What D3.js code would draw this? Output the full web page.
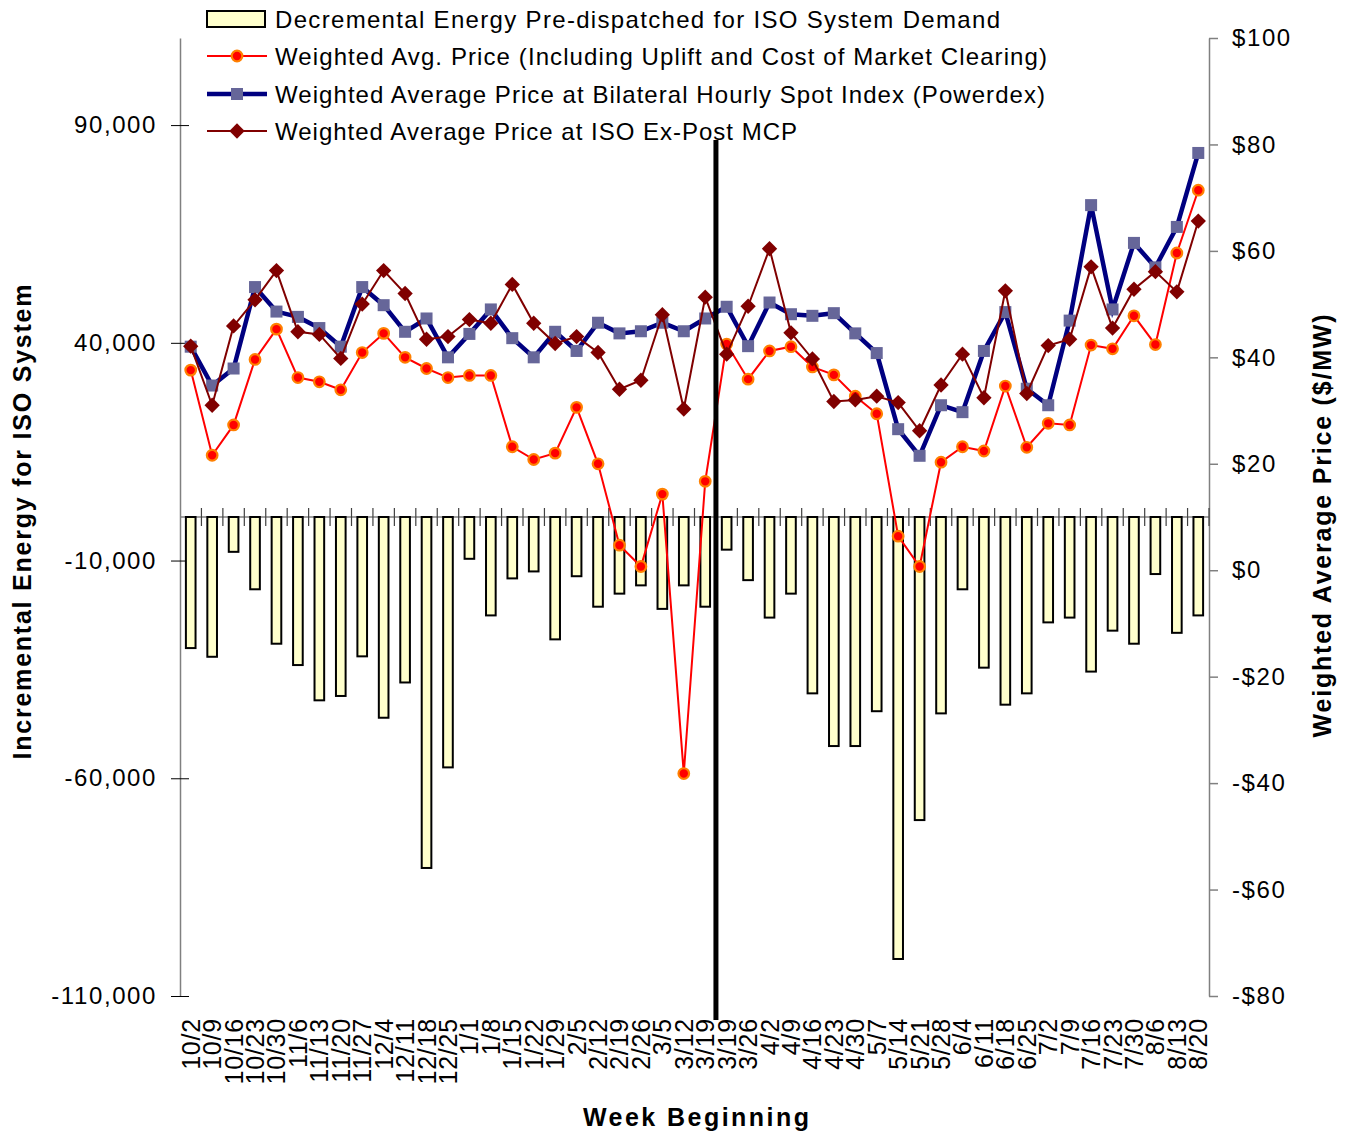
<!DOCTYPE html>
<html>
<head>
<meta charset="utf-8">
<script src="https://cdn.jsdelivr.net/npm/d3@7"></script>
<style>
  body { margin: 0; background: #fff; }
  text { font-family: "Liberation Sans", Arial, sans-serif; }
</style>
</head>
<body>
<script>

// categories (3/19 is split in two by the market change line)
var weeks = ['10/2','10/9','10/16','10/23','10/30','11/6','11/13','11/20','11/27','12/4',
  '12/11','12/18','12/25','1/1','1/8','1/15','1/22','1/29','2/5','2/12','2/19','2/26',
  '3/5','3/12','3/19','3/19','3/26','4/2','4/9','4/16','4/23','4/30','5/7','5/14','5/21',
  '5/28','6/4','6/11','6/18','6/25','7/2','7/9','7/16','7/23','7/30','8/6','8/13','8/20'];

// decremental energy (MWh, left axis)
var decEnergy = [-30100,-32100,-8000,-16600,-29100,-34000,-42100,-41100,-32000,-46100,
  -38000,-80600,-57500,-9600,-22600,-14100,-12500,-28100,-13600,-20600,-17600,-15700,
  -21100,-15700,-20600,-7500,-14500,-23100,-17600,-40500,-52600,-52600,-44600,-101500,
  -69600,-45100,-16600,-34600,-43100,-40500,-24200,-23100,-35500,-26100,-29100,-13100,
  -26600,-22600];

// weighted avg price incl. uplift ($/MW, right axis)
var avgPrice = [37.6,21.6,27.3,39.6,45.3,36.2,35.4,33.9,40.9,44.5,40.0,37.9,36.2,36.6,
  36.6,23.2,20.8,22.0,30.6,20.0,4.7,0.7,14.3,-38.2,16.7,42.5,35.9,41.2,42.0,38.2,36.7,
  32.7,29.4,6.4,0.7,20.3,23.2,22.4,34.6,23.1,27.6,27.3,42.3,41.6,47.8,42.4,59.6,71.4];

// bilateral hourly spot index (Powerdex)
var powerdex = [42.0,34.7,37.9,53.2,48.6,47.6,45.5,42.0,53.2,49.8,44.8,47.3,40.0,44.4,
  49.0,43.6,40.0,44.8,41.2,46.5,44.5,44.9,46.5,44.9,47.3,49.5,42.1,50.3,48.1,47.8,48.3,
  44.5,40.8,26.5,21.5,31.0,29.7,41.2,48.5,34.1,31.0,46.9,68.6,49.0,61.5,56.9,64.5,78.4];

// ISO ex-post MCP
var expostMCP = [42.1,31.0,45.9,50.8,56.3,44.8,44.3,39.8,50.0,56.3,52.0,43.4,43.9,47.1,
  46.4,53.7,46.4,42.6,43.9,40.9,34.0,35.7,48.0,30.3,51.3,40.6,49.6,60.4,44.6,39.7,31.7,
  32.0,32.7,31.5,26.2,34.8,40.6,32.4,52.5,33.2,42.2,43.4,57.0,45.5,52.8,56.1,52.3,65.6];

var leftTicks = [-110000,-60000,-10000,40000,90000];
var rightTicks = [-80,-60,-40,-20,0,20,40,60,80,100];
var splitAfter = 25; // vertical line before this category

var legendNames = [
  'Decremental Energy Pre-dispatched for ISO System Demand',
  'Weighted Avg. Price (Including Uplift and Cost of Market Clearing)',
  'Weighted Average Price at Bilateral Hourly Spot Index (Powerdex)',
  'Weighted Average Price at ISO Ex-Post MCP'
];
var legendWidths = [725, 772, 770, 522];

var W = 1349, H = 1134;
var plot = {left: 180, right: 1209, top: 38, bottom: 996};
var grey = '#808080';

var svg = d3.select('body').append('svg')
  .attr('width', W).attr('height', H);

var x = d3.scaleBand()
  .domain(d3.range(weeks.length))
  .range([plot.left, plot.right])
  .paddingInner(0.55)
  .paddingOuter(0.275);
var cx = function(i) { return x(i) + x.bandwidth() / 2; };

var yL = d3.scaleLinear().domain([-110000, 110000]).range([plot.bottom, plot.top]);
var yR = d3.scaleLinear().domain([-80, 100]).range([plot.bottom, plot.top]);

var comma = d3.format(',');

// left axis
var leftAxis = svg.append('g')
  .attr('transform', 'translate(' + plot.left + ',0)')
  .call(d3.axisLeft(yL).tickValues(leftTicks).tickSizeInner(9).tickSizeOuter(0)
    .tickPadding(14).tickFormat(function(d) { return comma(d).replace('\u2212', '-'); }));
leftAxis.select('.domain').attr('stroke', grey).attr('stroke-width', 1.5);
leftAxis.selectAll('.tick line').attr('x2', 9).attr('x1', -9).attr('stroke', '#000');
leftAxis.selectAll('.tick text').attr('font-size', 24).attr('letter-spacing', '1.6px')
  .attr('fill', '#000').style('font-family', '"Liberation Sans", Arial, sans-serif');

// right axis
var rightAxis = svg.append('g')
  .attr('transform', 'translate(' + plot.right + ',0)')
  .call(d3.axisRight(yR).tickValues(rightTicks).tickSizeInner(9).tickSizeOuter(0)
    .tickPadding(14).tickFormat(function(d) { return (d < 0 ? '-$' : '$') + Math.abs(d); }));
rightAxis.select('.domain').attr('stroke', grey).attr('stroke-width', 1.5);
rightAxis.selectAll('.tick line').attr('stroke', grey).attr('stroke-width', 1.5);
rightAxis.selectAll('.tick text').attr('font-size', 24).attr('letter-spacing', '1.6px')
  .attr('fill', '#000').style('font-family', '"Liberation Sans", Arial, sans-serif');

// category axis along zero
var zeroY = yL(0);
svg.append('line')
  .attr('x1', plot.left).attr('x2', plot.right)
  .attr('y1', zeroY).attr('y2', zeroY)
  .attr('stroke', grey).attr('stroke-width', 1.5);
svg.selectAll('.cat-tick')
  .data(d3.range(1, weeks.length + 1))
  .enter().append('line')
  .attr('class', 'cat-tick')
  .attr('x1', function(i) { return plot.left + i * x.step(); })
  .attr('x2', function(i) { return plot.left + i * x.step(); })
  .attr('y1', zeroY - 9).attr('y2', zeroY + 9)
  .attr('stroke', '#404040').attr('stroke-width', 1.2);

// week labels at bottom
svg.selectAll('.week')
  .data(weeks)
  .enter().append('text')
  .attr('class', 'week')
  .attr('transform', function(d, i) { return 'translate(' + cx(i) + ',' + (plot.bottom + 22) + ')rotate(-90)'; })
  .attr('dy', '0.36em')
  .attr('text-anchor', 'end')
  .attr('font-size', 25)
  .attr('letter-spacing', '0.8px')
  .text(function(d) { return d; });

// bars
svg.selectAll('.bar')
  .data(decEnergy)
  .enter().append('rect')
  .attr('class', 'bar')
  .attr('x', function(d, i) { return x(i); })
  .attr('width', x.bandwidth())
  .attr('y', function(d) { return yL(Math.max(0, d)); })
  .attr('height', function(d) { return Math.abs(yL(d) - yL(0)); })
  .attr('fill', '#ffffcc')
  .attr('stroke', '#000')
  .attr('stroke-width', 2);

var line = function(vals) {
  return d3.line()
    .x(function(d, i) { return cx(i); })
    .y(function(d) { return yR(d); })(vals);
};

// Weighted Avg. Price
svg.append('path').attr('d', line(avgPrice))
  .attr('fill', 'none').attr('stroke', '#ff0000').attr('stroke-width', 2);
svg.selectAll('.pt-avg').data(avgPrice).enter().append('circle')
  .attr('class', 'pt-avg')
  .attr('cx', function(d, i) { return cx(i); })
  .attr('cy', function(d) { return yR(d); })
  .attr('r', 5.3)
  .attr('fill', '#ff0000').attr('stroke', '#ff8000').attr('stroke-width', 2.2);

// Powerdex
svg.append('path').attr('d', line(powerdex))
  .attr('fill', 'none').attr('stroke', '#000080').attr('stroke-width', 4.5);
svg.selectAll('.pt-pdx').data(powerdex).enter().append('rect')
  .attr('class', 'pt-pdx')
  .attr('x', function(d, i) { return cx(i) - 6; })
  .attr('y', function(d) { return yR(d) - 6; })
  .attr('width', 12).attr('height', 12)
  .attr('fill', '#666699');

// Ex-Post MCP
svg.append('path').attr('d', line(expostMCP))
  .attr('fill', 'none').attr('stroke', '#800000').attr('stroke-width', 2);
var diamond = d3.symbol().type(d3.symbolDiamond2).size(150);
svg.selectAll('.pt-mcp').data(expostMCP).enter().append('path')
  .attr('class', 'pt-mcp')
  .attr('transform', function(d, i) { return 'translate(' + cx(i) + ',' + yR(d) + ')'; })
  .attr('d', diamond)
  .attr('fill', '#800000');

// market change line
var splitX = plot.left + splitAfter * x.step();
svg.append('line')
  .attr('x1', splitX).attr('x2', splitX)
  .attr('y1', 140).attr('y2', plot.bottom + 24)
  .attr('stroke', '#000').attr('stroke-width', 5);

// legend
var leg = svg.append('g').attr('transform', 'translate(207,0)');
var rowY = [19, 56, 94, 131];
leg.append('rect').attr('x', 0).attr('y', rowY[0] - 8).attr('width', 58).attr('height', 16)
  .attr('fill', '#ffffcc').attr('stroke', '#000').attr('stroke-width', 2);
leg.append('line').attr('x1', 0).attr('x2', 60).attr('y1', rowY[1]).attr('y2', rowY[1])
  .attr('stroke', '#ff0000').attr('stroke-width', 2);
leg.append('circle').attr('cx', 30).attr('cy', rowY[1]).attr('r', 5.3)
  .attr('fill', '#ff0000').attr('stroke', '#ff8000').attr('stroke-width', 2.2);
leg.append('line').attr('x1', 0).attr('x2', 60).attr('y1', rowY[2]).attr('y2', rowY[2])
  .attr('stroke', '#000080').attr('stroke-width', 4.5);
leg.append('rect').attr('x', 24).attr('y', rowY[2] - 6).attr('width', 12).attr('height', 12)
  .attr('fill', '#666699');
leg.append('line').attr('x1', 0).attr('x2', 60).attr('y1', rowY[3]).attr('y2', rowY[3])
  .attr('stroke', '#800000').attr('stroke-width', 2);
leg.append('path').attr('transform', 'translate(30,' + rowY[3] + ')').attr('d', diamond)
  .attr('fill', '#800000');
leg.selectAll('.leg-text').data(legendNames).enter().append('text')
  .attr('class', 'leg-text')
  .attr('x', 68)
  .attr('y', function(d, i) { return rowY[i]; })
  .attr('dy', '0.36em')
  .attr('font-size', 24)
  .attr('textLength', function(d, i) { return legendWidths[i]; })
  .attr('lengthAdjust', 'spacing')
  .text(function(d) { return d; });

// axis titles
svg.append('text')
  .attr('transform', 'translate(22,522)rotate(-90)')
  .attr('dy', '0.36em')
  .attr('text-anchor', 'middle')
  .attr('font-size', 25).attr('font-weight', 'bold')
  .attr('textLength', 475).attr('lengthAdjust', 'spacing')
  .text('Incremental Energy for ISO System');
svg.append('text')
  .attr('transform', 'translate(1322,526)rotate(-90)')
  .attr('dy', '0.36em')
  .attr('text-anchor', 'middle')
  .attr('font-size', 25).attr('font-weight', 'bold')
  .attr('textLength', 423).attr('lengthAdjust', 'spacing')
  .text('Weighted Average Price ($/MW)');
svg.append('text')
  .attr('x', 696).attr('y', 1117)
  .attr('dy', '0.36em')
  .attr('text-anchor', 'middle')
  .attr('font-size', 25).attr('font-weight', 'bold')
  .attr('textLength', 226).attr('lengthAdjust', 'spacing')
  .text('Week Beginning');

</script>
</body>
</html>
